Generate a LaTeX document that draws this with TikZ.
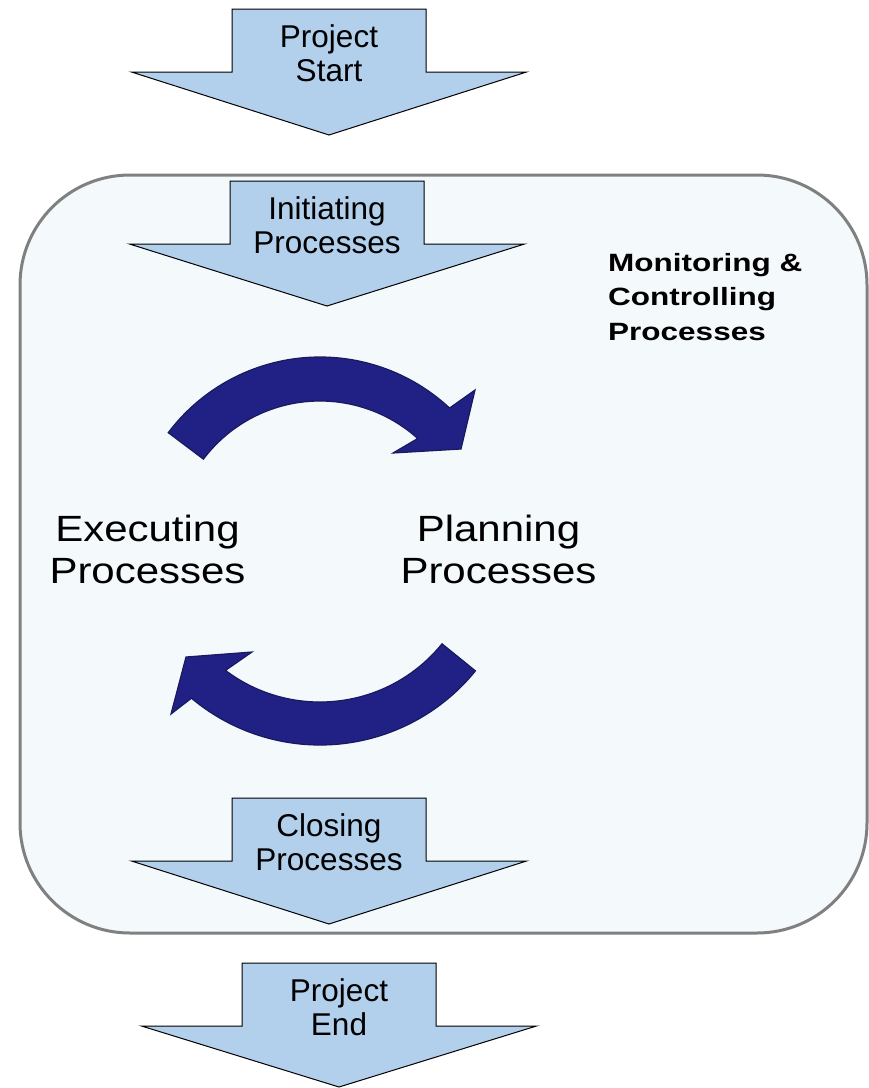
\documentclass[tikz,border=0pt]{standalone}
\usepackage{fontspec}
\setmainfont{Liberation Sans}
\newfontfamily\bigsans{Liberation Sans}[FakeStretch=1.15]
\newfontfamily\mcsans{Liberation Sans}[FakeStretch=1.26]
\definecolor{arrowblue}{RGB}{178,207,236}
\definecolor{panelfill}{RGB}{244,249,252}
\definecolor{panelline}{RGB}{128,128,128}
\definecolor{navy}{RGB}{33,33,133}
\definecolor{navyedge}{RGB}{25,25,95}
\tikzset{
  blockarrow/.style={fill=arrowblue, draw=black, line width=1pt, line join=miter},
  cyclearrow/.style={fill=navy, draw=navyedge, line width=1.2pt, line join=miter},
  panel/.style={fill=panelfill, draw=panelline, line width=3pt, rounded corners=110pt},
  smalllabel/.style={font=\fontsize{31.5}{34}\selectfont, align=center, inner sep=0pt, anchor=base},
  biglabel/.style={font=\bigsans\fontsize{36.5}{42.5}\selectfont, align=center, inner sep=0pt, anchor=base},
  mclabel/.style={font=\mcsans\bfseries\fontsize{25}{34.7}\selectfont, align=left, inner sep=0pt, anchor=base west},
}
% #1 = centre x, #2 = top y (pixels, downwards), #3 = tip depth
\newcommand\procarrow[3]{%
  \path[blockarrow] ({#1-97},{-(#2)}) -- ({#1+97},{-(#2)}) -- ({#1+97},{-(#2+63)})
    -- ({#1+197.5},{-(#2+63)}) -- ({#1},{-(#2+#3)}) -- ({#1-197.5},{-(#2+63)})
    -- ({#1-97},{-(#2+63)}) -- cycle;}
\begin{document}
\begin{tikzpicture}[x=1pt,y=1pt]
\useasboundingbox (0,0) rectangle (869,-1088);
\fill[white] (0,0) rectangle (869,-1088);

% monitoring & controlling panel
\path[panel] (20,-175) rectangle (867,-933);

% block arrows
\procarrow{329}{9}{126}
\procarrow{327}{181}{125}
\procarrow{329}{798}{126}
\procarrow{339}{963}{124}

% labels (base anchor = baseline of the last line)
\node[smalllabel] (start) at (329,-81) {Project\\Start};
\node[smalllabel] (init) at (327,-253) {Initiating\\Processes};
\node[smalllabel] (close) at (329,-870) {Closing\\Processes};
\node[smalllabel] (end) at (339,-1035) {Project\\End};

\node[mclabel] (mc) at (608,-340.4) {Monitoring \&\\Controlling\\Processes};

\node[biglabel] (exec) at (147.5,-583.5) {Executing\\Processes};
\node[biglabel] (plan) at (498.5,-583.5) {Planning\\Processes};

% cycle arrows
\coordinate (c1) at (320,-547);
\coordinate (c2) at (320,-545);
\path[cyclearrow] ([shift={(143:190)}]c1) arc[start angle=143,end angle=47,radius=190]
   -- (475,-390) -- (461,-449) -- (393,-453)
   -- ([shift={(48:146)}]c1) arc[start angle=48,end angle=143,radius=146] -- cycle;
\path[cyclearrow] ([shift={(-39:200)}]c2) arc[start angle=-39,end angle=-130,radius=200]
   -- (171,-714) -- (186,-657) -- (252,-652)
   -- ([shift={(-127:157)}]c2) arc[start angle=-127,end angle=-39,radius=157] -- cycle;
\end{tikzpicture}
\end{document}
